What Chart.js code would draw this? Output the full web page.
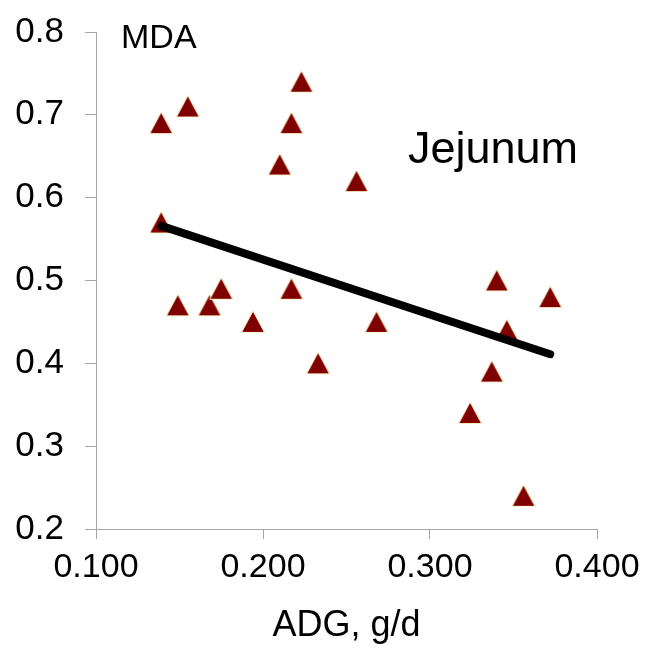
<!DOCTYPE html>
<html>
<head>
<meta charset="utf-8">
<script src="https://cdn.jsdelivr.net/npm/chart.js@4"></script>
<style>
  html, body { margin: 0; padding: 0; background: #fff; }
  #wrap { width: 646px; height: 649px; }
</style>
</head>
<body>
<div id="wrap"><canvas id="chart"></canvas></div>
<script>
// ADG (g/d) vs MDA
const adg = [0.139, 0.155, 0.223, 0.217, 0.210, 0.139, 0.256, 0.149, 0.168, 0.175,
             0.194, 0.217, 0.233, 0.268, 0.340, 0.372, 0.346, 0.337, 0.324, 0.356];
const mda = [0.69, 0.71, 0.74, 0.69, 0.64, 0.57, 0.62, 0.47, 0.47, 0.49,
             0.45, 0.49, 0.40, 0.45, 0.50, 0.48, 0.44, 0.39, 0.34, 0.24];

// trend line end points
const trendX = [0.139, 0.372];
const trendY = [0.566, 0.411];

const xTicks = [0.1, 0.2, 0.3, 0.4];
const yTicks = [0.2, 0.3, 0.4, 0.5, 0.6, 0.7, 0.8];

const FONT = "'Liberation Sans', Arial, sans-serif";
const AXIS = '#a6a6a6';

// excel style triangle marker, centred on its box
function triangleMarker() {
  const c = document.createElement('canvas');
  c.width = 26;
  c.height = 24;
  const g = c.getContext('2d');
  g.beginPath();
  g.moveTo(13, 1);
  g.lineTo(24.5, 22.5);
  g.lineTo(1.5, 22.5);
  g.closePath();
  g.fillStyle = '#7f0000';
  g.fill();
  g.strokeStyle = '#fff5c8';
  g.lineWidth = 1;
  g.stroke();
  return c;
}

const labelsPlugin = {
  id: 'labels',
  afterDraw(chart) {
    const ctx = chart.ctx;
    ctx.save();
    ctx.fillStyle = '#000';
    ctx.textBaseline = 'alphabetic';
    ctx.textAlign = 'left';
    ctx.font = '34px ' + FONT;
    ctx.fillText('MDA', 121, 48);
    ctx.font = '45px ' + FONT;
    ctx.fillText('Jejunum', 408, 163);
    ctx.restore();
  }
};

new Chart(document.getElementById('chart'), {
  type: 'scatter',
  data: {
    datasets: [
      {
        type: 'line',
        data: trendX.map((x, i) => ({ x: x, y: trendY[i] })),
        borderColor: '#000',
        borderWidth: 8,
        borderCapStyle: 'round',
        pointRadius: 0,
        fill: false,
        order: 0,
      },
      {
        data: adg.map((x, i) => ({ x: x, y: mda[i] })),
        pointStyle: triangleMarker(),
        pointRadius: 12,
        order: 1,
      },
    ],
  },
  options: {
    responsive: true,
    maintainAspectRatio: false,
    animation: false,
    layout: { padding: { top: 32, right: 49, bottom: 0, left: 0 } },
    plugins: {
      legend: { display: false },
      tooltip: { enabled: false },
    },
    scales: {
      x: {
        type: 'linear',
        min: 0.1,
        max: 0.4,
        afterFit(scale) {
          scale.height = 120;
          scale.paddingLeft = 0;
          scale.paddingRight = 0;
        },
        afterBuildTicks(scale) { scale.ticks = xTicks.map(v => ({ value: v })); },
        ticks: {
          color: '#000',
          font: { family: FONT, size: 34 },
          padding: 8,
          callback: v => v.toFixed(3),
        },
        grid: { drawOnChartArea: false, drawTicks: true, tickLength: 10, color: AXIS },
        border: { color: AXIS, width: 1 },
        title: {
          display: true,
          text: 'ADG, g/d',
          color: '#000',
          font: { family: FONT, size: 36 },
          padding: { top: 0, bottom: 1 },
        },
      },
      y: {
        min: 0.2,
        max: 0.8,
        afterFit(scale) {
          scale.width = 96;
          scale.paddingTop = 0;
          scale.paddingBottom = 0;
        },
        afterBuildTicks(scale) { scale.ticks = yTicks.map(v => ({ value: v })); },
        ticks: {
          color: '#000',
          font: { family: FONT, size: 35 },
          padding: 21,
          callback: v => v.toFixed(1),
        },
        grid: { drawOnChartArea: false, drawTicks: true, tickLength: 11, color: AXIS },
        border: { color: AXIS, width: 1 },
      },
    },
  },
  plugins: [labelsPlugin],
});
</script>
</body>
</html>
